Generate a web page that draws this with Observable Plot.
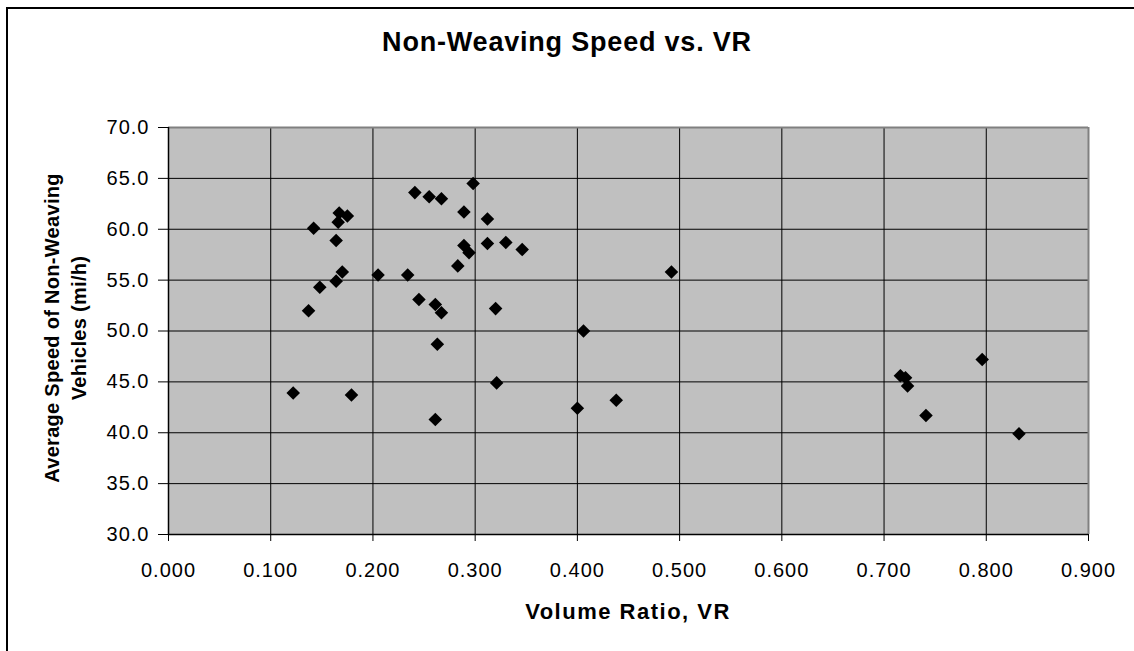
<!DOCTYPE html>
<html>
<head>
<meta charset="utf-8">
<script src="https://cdn.jsdelivr.net/npm/d3@7"></script>
<script src="https://cdn.jsdelivr.net/npm/@observablehq/plot@0.6"></script>
<style>
  html, body { margin: 0; padding: 0; background: #fff; width: 1134px; height: 651px; overflow: hidden; }
  body { position: relative; font-family: "Liberation Sans", Arial, sans-serif; color: #000; }
  #frame { position: absolute; left: 6px; top: 7px; width: 1200px; height: 700px; border-left: 2px solid #000; border-top: 2px solid #000; box-sizing: border-box; }
  #chart { position: absolute; left: 0; top: 0; }
  .title { position: absolute; left: 0; width: 1134px; top: 29px; text-align: center; font-weight: bold; font-size: 27px; line-height: 27px; letter-spacing: 0.8px; white-space: nowrap; }
  .xlabel { position: absolute; left: 168px; width: 920px; top: 601px; text-align: center; font-weight: bold; font-size: 22px; line-height: 22px; letter-spacing: 1.5px; white-space: nowrap; }
  .ylabel { position: absolute; left: -133px; width: 400px; top: 300px; height: 56px; text-align: center; font-weight: bold; font-size: 20px; line-height: 27px; letter-spacing: 0.3px; transform: rotate(-90deg); white-space: nowrap; }
</style>
</head>
<body>
<div id="frame"></div>
<div id="chart"></div>
<div class="title">Non-Weaving Speed vs. VR</div>
<div class="ylabel">Average Speed of Non-Weaving<br>Vehicles (mi/h)</div>
<div class="xlabel">Volume Ratio, VR</div>
<script>
// Volume ratio (x) and average non-weaving speed (y, mi/h)
const vr = [
  0.142, 0.167, 0.166, 0.175, 0.164, 0.170, 0.164, 0.148, 0.137, 0.205,
  0.122, 0.179, 0.234, 0.241, 0.255, 0.267, 0.298, 0.289, 0.312, 0.289,
  0.294, 0.312, 0.330, 0.346, 0.283, 0.492, 0.245, 0.261, 0.267, 0.320,
  0.406, 0.263, 0.321, 0.438, 0.400, 0.261, 0.716, 0.721, 0.723, 0.741,
  0.796, 0.832
];
const speed = [
  60.1, 61.6, 60.7, 61.3, 58.9, 55.8, 54.9, 54.3, 52.0, 55.5,
  43.9, 43.7, 55.5, 63.6, 63.2, 63.0, 64.5, 61.7, 61.0, 58.4,
  57.7, 58.6, 58.7, 58.0, 56.4, 55.8, 53.1, 52.6, 51.8, 52.2,
  50.0, 48.7, 44.9, 43.2, 42.4, 41.3, 45.6, 45.4, 44.6, 41.7,
  47.2, 39.9
];
const xTicks = [0, 0.1, 0.2, 0.3, 0.4, 0.5, 0.6, 0.7, 0.8, 0.9];
const yTicks = [30, 35, 40, 45, 50, 55, 60, 65, 70];

const data = vr.map((v, i) => ({vr: v, speed: speed[i]}));

const chart = Plot.plot({
  width: 1134,
  height: 651,
  marginLeft: 168,
  marginRight: 46,
  marginTop: 127,
  marginBottom: 117,
  x: {domain: [0, 0.9]},
  y: {domain: [30, 70]},
  style: {
    fontFamily: '"Liberation Sans", Arial, sans-serif',
    fontSize: "20px",
    color: "#000",
    background: "transparent",
    letterSpacing: "1px"
  },
  marks: [
    Plot.frame({fill: "#c0c0c0", stroke: null}),
    Plot.gridX(xTicks, {stroke: "#000", strokeOpacity: 1, strokeWidth: 1}),
    Plot.gridY(yTicks, {stroke: "#000", strokeOpacity: 1, strokeWidth: 1}),
    Plot.ruleY([70], {stroke: "#808080", strokeWidth: 2}),
    Plot.ruleX([0.9], {stroke: "#808080", strokeWidth: 2}),
    Plot.ruleY([30], {stroke: "#000", strokeWidth: 1.5}),
    Plot.ruleX([0], {stroke: "#000", strokeWidth: 1.5}),
    Plot.axisX(xTicks, {tickSize: 7, tickPadding: 21, tickFormat: d3.format(".3f"), label: null, stroke: "#000", fontSize: 20}),
    Plot.axisY(yTicks, {tickSize: 10, tickPadding: 9, tickFormat: d3.format(".1f"), label: null, stroke: "#000", fontSize: 20}),
    Plot.dot(data, {x: "vr", y: "speed", symbol: "diamond2", r: 6.1, fill: "#000", stroke: null})
  ]
});
document.getElementById("chart").appendChild(chart);
</script>
</body>
</html>
